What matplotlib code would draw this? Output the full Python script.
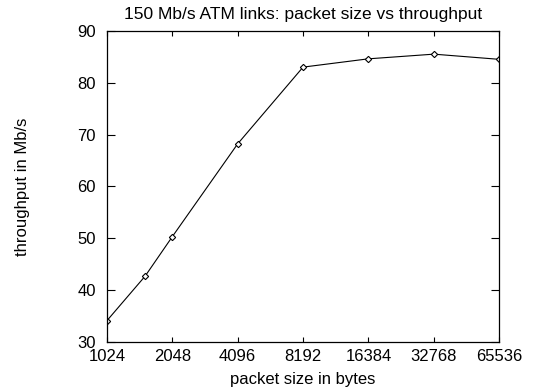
import matplotlib
matplotlib.use("Agg")
import matplotlib.pyplot as plt

plt.rcParams['font.family'] = ['Liberation Sans', 'DejaVu Sans']

sizes = [1024, 1536, 2048, 4096, 8192, 16384, 32768, 65536]
throughput = [34.1, 42.7, 50.3, 68.2, 83.0, 84.6, 85.5, 84.5]
xticks = [1024, 2048, 4096, 8192, 16384, 32768, 65536]
yticks = [30, 40, 50, 60, 70, 80, 90]

fig = plt.figure(figsize=(5.48, 3.9), dpi=100)
ax = fig.add_axes([0.195, 0.123, 0.716, 0.798])

ax.plot(sizes, throughput, color='black', linewidth=0.8,
        marker='D', markersize=3.2, markerfacecolor='white',
        markeredgecolor='black', markeredgewidth=0.8)

ax.set_xscale('log', base=2)
ax.set_xlim(1024, 65536)
ax.set_ylim(30, 90)
ax.set_xticks(xticks)
ax.set_xticklabels([str(t) for t in xticks])
ax.minorticks_off()
ax.set_yticks(yticks)

ax.tick_params(direction='in', top=True, right=True, labelsize=12, width=0.8)
ax.tick_params(axis='x', length=3.3, pad=4.8)
ax.tick_params(axis='y', length=6, pad=8)
for s in ax.spines.values():
    s.set_linewidth(0.9)

ax.set_title('150 Mb/s ATM links: packet size vs throughput', fontsize=12.5, pad=8.5)
ax.set_xlabel('packet size in bytes', fontsize=12)
ax.xaxis.set_label_coords(0.5, -0.095)
ax.set_ylabel('throughput in Mb/s', fontsize=12)
ax.yaxis.set_label_coords(-0.197, 0.5)

fig.savefig('out.png', dpi=100)
